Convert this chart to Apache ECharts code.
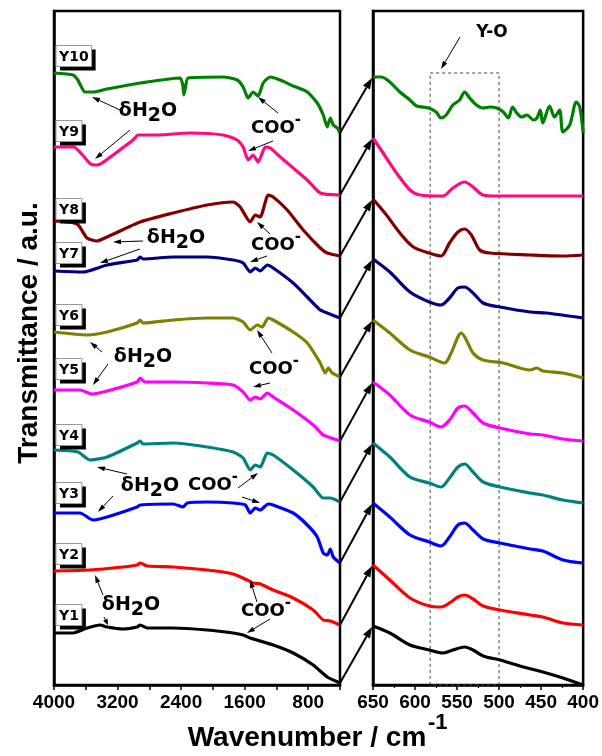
<!DOCTYPE html>
<html><head><meta charset="utf-8">
<script src="https://cdn.jsdelivr.net/npm/echarts@6/dist/echarts.min.js"></script>
<style>html,body{margin:0;padding:0;background:#fff}#c{width:602px;height:756px}</style>
</head><body><div id="c"></div>
<script>
// ---------- data (wavenumber cm-1, stacked transmittance a.u.) ----------
const names = ['Y1','Y2','Y3','Y4','Y5','Y6','Y7','Y8','Y9','Y10'];
const colors = ['#000000','#ff0000','#0000ff','#008080','#ff00ff','#808000','#000080','#800000','#ff0a82','#008000'];
const leftTicks = [4000, 3200, 2400, 1600, 800];
const rightTicks = [650, 600, 550, 500, 450, 400];

const left_Y10 = [[4000,612],[3761,610],[3700,605],[3609,593],[3500,593],[3332,596],[2916,602],[2412,607],[2380,600],[2365,590],[2345,598],[2312,607],[1871,608],[1694,605],[1619,598],[1556,587],[1493,593],[1430,589],[1367,602],[1278,608],[1152,605],[989,599],[812,593],[686,582],[611,570],[560,558],[522,567],[485,560],[434,557],[400,552]];
const left_Y9 = [[4000,538],[3750,538],[3640,530],[3540,521],[3460,520],[3395,522],[3206,533],[3005,545],[2942,550],[2702,550],[2286,552],[1871,550],[1694,545],[1619,538],[1556,525],[1493,530],[1430,523],[1341,538],[1278,537],[1152,528],[989,517],[812,505],[648,492],[400,490]];
const left_Y8 = [[4000,464],[3710,461],[3584,447],[3458,444],[3332,448],[2916,463],[2501,472],[2072,480],[1745,483],[1656,478],[1530,463],[1467,470],[1404,468],[1304,490],[1241,488],[1064,475],[863,455],[648,437],[560,432],[400,429]];
const left_Y7 = [[4000,414],[3635,413],[3332,420],[2954,425],[2916,428],[2879,426],[2501,428],[2072,428],[1745,425],[1619,422],[1530,413],[1467,417],[1404,414],[1316,420],[1241,417],[989,402],[812,388],[648,375],[560,372],[400,367]];
const left_Y6 = [[4000,353],[3584,350],[3332,353],[2954,362],[2916,365],[2879,362],[2501,365],[2072,367],[1745,367],[1619,363],[1530,355],[1442,360],[1379,358],[1304,367],[1241,365],[989,353],[812,342],[648,322],[585,312],[548,317],[497,312],[400,308]];
const left_Y5 = [[4000,295],[3672,295],[3521,291],[3332,294],[2954,303],[2916,307],[2853,303],[2501,303],[2072,302],[1745,300],[1619,293],[1530,285],[1467,288],[1404,286],[1316,292],[1241,288],[989,275],[737,260],[611,250],[548,248],[400,244]];
const left_Y4 = [[4000,235],[3698,233],[3546,225],[3332,228],[2954,242],[2916,244],[2879,241],[2501,242],[2072,238],[1745,233],[1619,227],[1530,215],[1467,220],[1404,218],[1316,232],[1241,230],[989,215],[737,198],[611,187],[522,187],[400,183]];
const left_Y3 = [[4000,172],[3672,172],[3509,165],[3332,168],[2954,178],[2916,180],[2501,181],[2375,178],[2324,182],[2072,183],[1745,182],[1593,180],[1530,172],[1467,177],[1404,175],[1304,181],[1241,180],[989,172],[812,160],[686,148],[611,132],[560,130],[522,136],[485,128],[400,122]];
const left_Y2 = [[4000,114],[3546,115],[3131,118],[2954,120],[2916,122],[2828,119],[2501,118],[2072,115],[1745,111],[1568,105],[1493,102],[1404,101],[1241,95],[989,87],[737,75],[611,65],[522,64],[400,60]];
const left_Y1 = [[4000,52],[3761,52],[3584,57],[3420,60],[3332,58],[3131,56],[2954,58],[2916,60],[2828,57],[2501,57],[2072,55],[1745,52],[1619,50],[1530,47],[1241,40],[989,32],[737,20],[560,8],[400,2]];

const right_Y10 = [[650,608],[640,608],[630,603],[618,593],[606,585],[598,579],[584,577],[575,573],[569,567],[563,570],[555,580],[547,585],[541,593],[535,587],[527,580],[519,577],[511,578],[503,577],[495,573],[489,567],[484,578],[479,572],[473,568],[467,570],[459,565],[455,567],[451,575],[448,562],[440,579],[434,568],[428,575],[424,553],[416,560],[408,583],[404,578],[400,552]];
const right_Y9 = [[650,547],[638,532],[622,512],[606,495],[594,490],[567,489],[555,497],[541,503],[531,498],[519,490],[503,489],[463,489],[400,489]];
const right_Y8 = [[650,486],[634,470],[618,452],[602,438],[583,432],[569,429],[559,442],[549,453],[541,456],[533,450],[523,435],[511,432],[463,430],[424,429],[400,430]];
const right_Y7 = [[650,426],[630,413],[606,393],[583,383],[569,380],[559,387],[549,397],[541,398],[531,392],[519,382],[499,378],[463,373],[444,372],[400,367]];
const right_Y6 = [[650,365],[630,352],[606,335],[583,328],[565,322],[557,332],[549,348],[545,352],[539,345],[531,332],[519,325],[495,322],[463,315],[455,317],[448,314],[424,312],[400,307]];
const right_Y5 = [[650,303],[630,290],[606,270],[583,263],[569,258],[559,265],[549,277],[541,279],[531,272],[519,262],[499,257],[463,251],[448,250],[424,246],[400,244]];
const right_Y4 = [[650,242],[630,228],[606,208],[583,202],[569,198],[559,207],[549,218],[541,221],[531,213],[519,203],[499,198],[463,192],[448,190],[424,185],[400,182]];
const right_Y3 = [[650,182],[630,168],[606,150],[583,143],[569,139],[559,148],[549,160],[541,162],[531,155],[519,146],[499,142],[463,136],[448,134],[424,125],[400,122]];
const right_Y2 = [[650,120],[630,105],[606,87],[583,79],[569,78],[559,82],[549,88],[541,90],[531,86],[519,79],[499,75],[463,70],[448,68],[424,62],[400,60]];
const right_Y1 = [[650,59],[630,52],[606,40],[583,35],[567,32],[555,35],[541,38],[531,35],[519,29],[499,25],[471,18],[448,13],[424,7],[400,0]];

const leftData = [left_Y1,left_Y2,left_Y3,left_Y4,left_Y5,left_Y6,left_Y7,left_Y8,left_Y9,left_Y10];
const rightData = [right_Y1,right_Y2,right_Y3,right_Y4,right_Y5,right_Y6,right_Y7,right_Y8,right_Y9,right_Y10];
const yoBox = [582, 500, 612]; // Y-O region (cm-1 from, to, top a.u.)

// ---------- chart ----------
const chart = echarts.init(document.getElementById('c'), null, {renderer:'canvas'});
const AF = '"Liberation Sans", Arial, sans-serif';
const LF = '"DejaVu Sans", Verdana, sans-serif';

function xAxisCfg(grid, min, max, interval, labels, minor) {
  return {
    type:'value', gridIndex:grid, min:min, max:max, interval:interval, inverse:true,
    axisLine:{show:true, onZero:false, lineStyle:{color:'#000', width:2.5}},
    axisTick:{show:true, inside:false, length:5, lineStyle:{color:'#000', width:1.5}},
    minorTick: minor ? {show:true, splitNumber:2, length:3, lineStyle:{color:'#000', width:1.2}} : {show:false},
    axisLabel:{show:true, color:'#000', fontSize:19, fontWeight:'bold', fontFamily:AF, margin:8,
      showMinLabel:true, showMaxLabel:true,
      formatter: v => labels.indexOf(v) >= 0 ? String(v) : ''},
    splitLine:{show:false}
  };
}
function yAxisCfg(grid) {
  return {type:'value', gridIndex:grid, min:0, max:674,
    axisLine:{show:true, lineStyle:{color:'#000', width:2.5}},
    axisTick:{show:false}, axisLabel:{show:false}, splitLine:{show:false}};
}

const series = [];
for (let i = 0; i < 10; i++) {
  series.push({type:'line', name:names[i]+'-L', xAxisIndex:0, yAxisIndex:0, data:leftData[i],
    showSymbol:false, symbol:'none', smooth:0.2, lineStyle:{color:colors[i], width:3.2}, silent:true, z:3});
  const s = {type:'line', name:names[i]+'-R', xAxisIndex:1, yAxisIndex:1, data:rightData[i],
    showSymbol:false, symbol:'none', smooth:0.3, lineStyle:{color:colors[i], width:3.2}, silent:true, z:3};
  if (i === 0) {
    s.markArea = {silent:true, itemStyle:{color:'rgba(0,0,0,0)', borderColor:'#444', borderWidth:1, borderType:[3,3]},
      label:{show:false}, data:[[{coord:[yoBox[0], yoBox[2]]},{coord:[yoBox[1], 0]}]]};
  }
  series.push(s);
}

chart.setOption({
  animation:false, backgroundColor:'#fff',
  grid:[
    {left:54, top:11, width:286, height:674, show:true, borderColor:'#000', borderWidth:2.5, backgroundColor:'transparent'},
    {left:373, top:11, width:211, height:674, show:true, borderColor:'#000', borderWidth:2.5, backgroundColor:'transparent'}
  ],
  xAxis:[xAxisCfg(0, 400, 4000, 400, leftTicks, false), xAxisCfg(1, 400, 650, 50, rightTicks, true)],
  yAxis:[yAxisCfg(0), yAxisCfg(1)],
  series: series
});

// ---------- annotations ----------
const cv = document.createElement('canvas').getContext('2d');
function tw(t, size, fam) { cv.font = 'bold ' + size + 'px ' + fam; return cv.measureText(t).width; }
const G = [];
function txt(t, x, y, size, fam, align, extra) {
  const o = {type:'text', silent:true, z:20, x:x, y:y, style:Object.assign({text:t, fill:'#000',
    font:'bold ' + size + 'px ' + fam, textAlign:align||'left', align:align||'left',
    textVerticalAlign:'middle', verticalAlign:'middle'}, extra||{})};
  G.push(o); return o;
}
function pieces(cx, cy, parts, fam) {
  let W = 0; parts.forEach(p => { p.w = tw(p.t, p.s, fam); W += p.w; });
  let x = cx - W/2;
  parts.forEach(p => { txt(p.t, x, cy + (p.dy||0), p.s, fam, 'left'); x += p.w; });
}
function arrow(x1, y1, x2, y2, lw, hl, hw) {
  const a = Math.atan2(y2 - y1, x2 - x1);
  const bx = x2 - hl*Math.cos(a), by = y2 - hl*Math.sin(a);
  const px = -Math.sin(a)*hw/2, py = Math.cos(a)*hw/2;
  G.push({type:'line', silent:true, z:20, shape:{x1:x1, y1:y1, x2:bx, y2:by}, style:{stroke:'#000', lineWidth:lw}});
  G.push({type:'polygon', silent:true, z:20, shape:{points:[[x2,y2],[bx+px,by+py],[bx-px,by-py]]}, style:{fill:'#000'}});
}
function h2o(cx, cy) {
  pieces(cx, cy, [{t:'δH', s:19},{t:'2', s:19, dy:5},{t:'O', s:19}], LF);
}
function coo(cx, cy) {
  pieces(cx, cy, [{t:'COO', s:18},{t:'-', s:15, dy:-8}], LF);
}

// sample labels with shadowed boxes
const labelY = [615, 554, 493, 435, 369, 315, 253, 209, 131, 56];
for (let i = 0; i < 10; i++) {
  const w = tw(names[i], 14, LF) + 6, h = 21, x = 56, y = labelY[i] - h/2;
  G.push({type:'rect', silent:true, z:18, shape:{x:x+4, y:y+4, width:w, height:h}, style:{fill:'#000'}});
  G.push({type:'rect', silent:true, z:19, shape:{x:x, y:y, width:w, height:h}, style:{fill:'#fff', stroke:'#999', lineWidth:1}});
  txt(names[i], x + w/2, labelY[i] + 1, 14, LF, 'center');
}

// δH2O
h2o(148, 111); arrow(120,110, 92,97, 1, 8, 5); arrow(130,130, 95,159, 1, 8, 5);
h2o(176, 238); arrow(143,241, 113,242, 1, 8, 5); arrow(140,249, 100,263, 1, 8, 5);
h2o(143, 357); arrow(102,352, 90,342, 1, 8, 5); arrow(108,364, 93,385, 1, 8, 5);
h2o(150, 486); arrow(127,474, 97,467, 1, 8, 5); arrow(113,496, 98,512, 1, 8, 5);
h2o(131, 605); arrow(103,595, 95,575, 1, 8, 5); arrow(104,617, 108,625, 1, 6, 5);
// COO-
coo(276, 128); arrow(278,113, 258,97, 1, 8, 5); arrow(273,141, 248,151, 1, 8, 5);
coo(276, 245); arrow(270,234, 257,222, 1, 8, 5); arrow(267,256, 250,262, 1, 8, 5);
coo(274, 369); arrow(272,353, 257,330, 1, 8, 5); arrow(270,383, 253,387, 1, 8, 5);
coo(213, 485); arrow(238,488, 258,473, 1, 8, 5); arrow(242,497, 260,503, 1, 8, 5);
coo(266, 611); arrow(257,602, 250,580, 1, 8, 5); arrow(270,619, 247,633, 1, 8, 5);
// Y-O
txt('Y-O', 492, 33, 17, LF, 'center'); arrow(460,37, 441,69, 1, 8, 5);

// connecting arrows from left panel ends to right panel starts
for (let i = 0; i < 10; i++) {
  const L = leftData[i][leftData[i].length - 1];
  const R = rightData[i][0];
  const p1 = chart.convertToPixel({xAxisIndex:0, yAxisIndex:0}, L);
  const p2 = chart.convertToPixel({xAxisIndex:1, yAxisIndex:1}, R);
  arrow(p1[0], p1[1], p2[0] - 1, p2[1] + 1, 2, 11, 8);
}

// axis titles
G.push({type:'text', silent:true, z:20, x:29, y:333, rotation:Math.PI/2,
  style:{text:'Transmittance / a.u.', fill:'#000', font:'bold 28px ' + AF, textAlign:'center', align:'center', textVerticalAlign:'middle', verticalAlign:'middle'}});
txt('Wavenumber / cm', 307, 738, 28, AF, 'center');
txt('-1', 428, 723, 22, AF, 'left');

chart.setOption({graphic:{elements:G}});
</script></body></html>
